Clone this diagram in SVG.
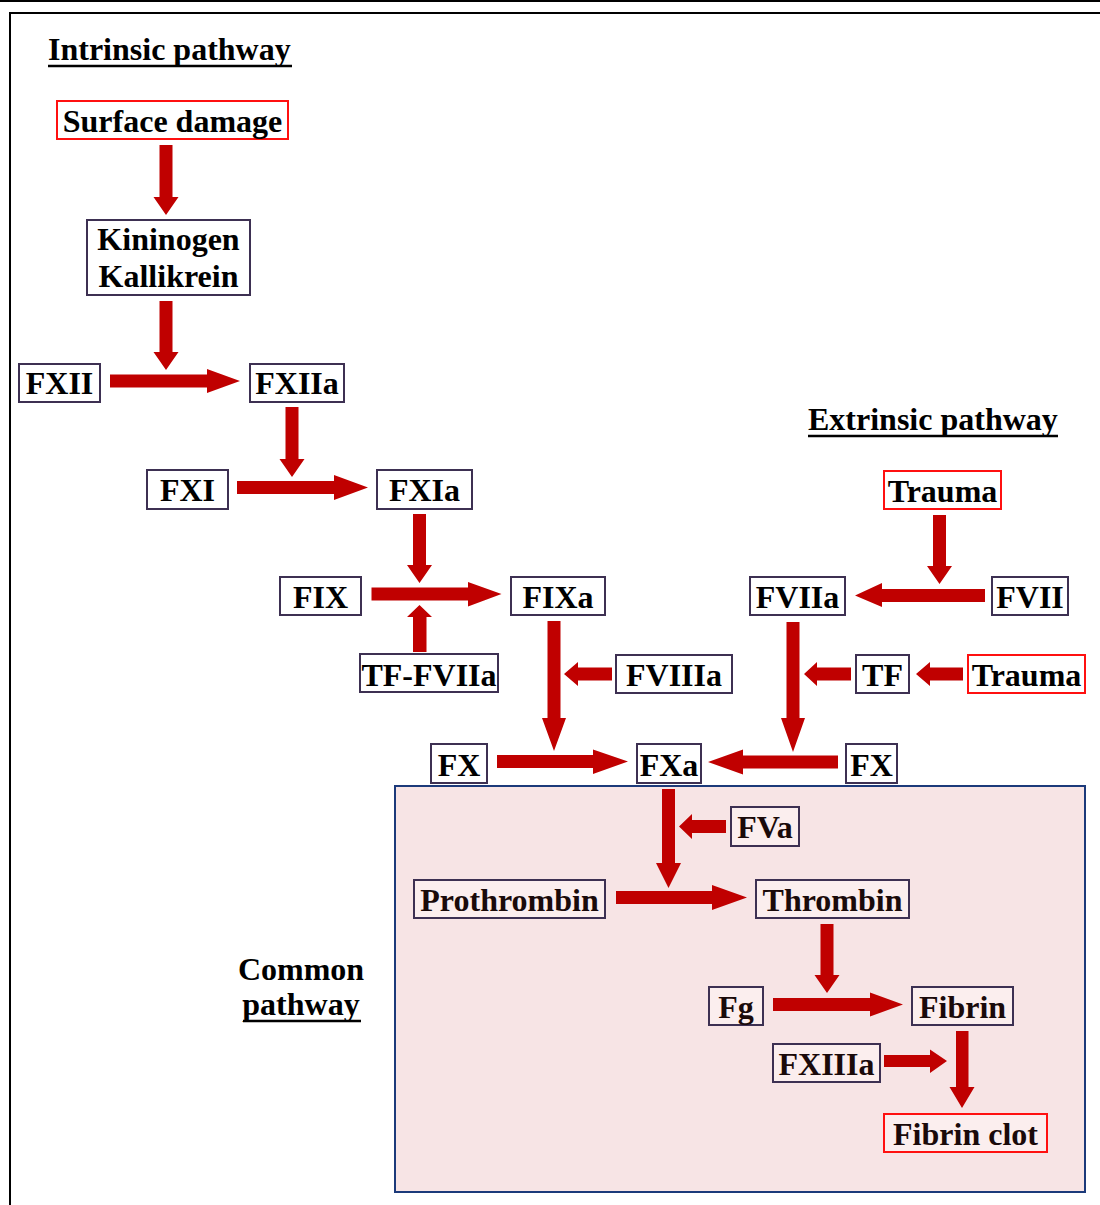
<svg xmlns="http://www.w3.org/2000/svg" width="1100" height="1205" viewBox="0 0 1100 1205">
<style>
text{font-family:"Liberation Serif","Times New Roman",serif;font-weight:bold;font-size:32px;fill:#000;text-anchor:middle}
.ul{stroke:#000;stroke-width:2.6}
.b{fill:#fff;stroke:#3d3052;stroke-width:2}
.r{fill:#fff;stroke:#ff1010;stroke-width:2}
.in{fill:#fbeeee}
.in + text, .in ~ text{fill:#1a0a0a}
.a{fill:#c00000}
.frame{fill:none;stroke:#000;stroke-width:2}
</style>
<rect width="1100" height="1205" fill="#fff"/>
<line x1="0" y1="1" x2="1100" y2="1" stroke="#000" stroke-width="2"/>
<polyline class="frame" points="10,1205 10,13 1100,13"/>
<g id="common-pathway">
<rect x="395" y="786" width="690" height="406" fill="#f7e4e5" stroke="#1c3a7a" stroke-width="2"/>
</g>
<g id="labels">
<text x="48" y="60" style="text-anchor:start">Intrinsic pathway</text>
<line class="ul" x1="48" y1="66" x2="292" y2="66"/>
<text x="808" y="430" style="text-anchor:start">Extrinsic pathway</text>
<line class="ul" x1="808" y1="436" x2="1058" y2="436"/>
<text x="301" y="980">Common</text>
<text x="301" y="1015">pathway</text>
<line class="ul" x1="243" y1="1021" x2="361" y2="1021"/>
</g>
<g id="connectors">
<polygon class="a" points="159.5,145 172.5,145 172.5,197 178.5,197 166,215 153.5,197 159.5,197"/>
<polygon class="a" points="159.5,301 172.5,301 172.5,352 178.5,352 166,370 153.5,352 159.5,352"/>
<polygon class="a" points="285.5,407 298.5,407 298.5,459 304.5,459 292,477 279.5,459 285.5,459"/>
<polygon class="a" points="413,514 426,514 426,565 432,565 419.5,583 407,565 413,565"/>
<polygon class="a" points="933,515 946,515 946,566 952,566 939.5,584 927,566 933,566"/>
<polygon class="a" points="547.5,621 560.5,621 560.5,718 566,718 554,751 542,718 547.5,718"/>
<polygon class="a" points="786.5,622 799.5,622 799.5,718 805,718 793,752 781,718 786.5,718"/>
<polygon class="a" points="662,789 675,789 675,863 681,863 668.5,888 656,863 662,863"/>
<polygon class="a" points="820.5,924 833.5,924 833.5,975 839.5,975 827,993 814.5,975 820.5,975"/>
<polygon class="a" points="956,1031 968.5,1031 968.5,1087 974.5,1087 962,1108 949.5,1087 956,1087"/>
<polygon class="a" points="413,652 426.5,652 426.5,617 432,617 419.5,605 407,617 413,617"/>
<polygon class="a" points="110,374.5 207,374.5 207,369 240,381 207,393 207,387.5 110,387.5"/>
<polygon class="a" points="237,481 334,481 334,475 368,487.5 334,500 334,494 237,494"/>
<polygon class="a" points="371.5,587.5 468,587.5 468,582 501.5,594 468,606.5 468,600.5 371.5,600.5"/>
<polygon class="a" points="497,755 593,755 593,749.5 628,761.5 593,774 593,768 497,768"/>
<polygon class="a" points="616,891 712,891 712,885 747,897.5 712,910 712,904 616,904"/>
<polygon class="a" points="773,998 870,998 870,992.5 903,1004.5 870,1016.5 870,1011 773,1011"/>
<polygon class="a" points="884,1055 930,1055 930,1049.5 947,1061 930,1073 930,1067 884,1067"/>
<polygon class="a" points="985,589 882,589 882,583 855,595.5 882,607 882,602 985,602"/>
<polygon class="a" points="838,755.5 743,755.5 743,749.5 708,762 743,774.5 743,768.5 838,768.5"/>
<polygon class="a" points="612,667.5 578,667.5 578,662 564,674 578,686 578,680.5 612,680.5"/>
<polygon class="a" points="851,667.5 817,667.5 817,662 804,674 817,686 817,680.5 851,680.5"/>
<polygon class="a" points="963,667.5 930,667.5 930,662 916,674 930,686 930,680.5 963,680.5"/>
<polygon class="a" points="726,820 692,820 692,814 679,826.5 692,839 692,833 726,833"/>
</g>
<g id="surface-damage"><rect class="r" x="57" y="101" width="231" height="38"/><text x="172.5" y="132">Surface damage</text></g>
<g id="kininogen-kallikrein"><rect class="b" x="87" y="220" width="163" height="75"/><text x="168.5" y="250">Kininogen</text><text x="168.5" y="287">Kallikrein</text></g>
<g id="fxii"><rect class="b" x="19" y="364" width="81" height="38"/><text x="59.5" y="394">FXII</text></g>
<g id="fxiia"><rect class="b" x="250" y="364" width="94" height="38"/><text x="297" y="394">FXIIa</text></g>
<g id="fxi"><rect class="b" x="147" y="470" width="81" height="39"/><text x="187.5" y="501">FXI</text></g>
<g id="fxia"><rect class="b" x="377" y="470" width="95" height="39"/><text x="424.5" y="501">FXIa</text></g>
<g id="fix"><rect class="b" x="280" y="577" width="81" height="38"/><text x="320.5" y="608">FIX</text></g>
<g id="fixa"><rect class="b" x="511" y="577" width="94" height="38"/><text x="558" y="608">FIXa</text></g>
<g id="tf-fviia"><rect class="b" x="360" y="654" width="138" height="38"/><text x="429" y="686">TF-FVIIa</text></g>
<g id="fviiia"><rect class="b" x="616" y="655" width="116" height="38"/><text x="674" y="686">FVIIIa</text></g>
<g id="fx-left"><rect class="b" x="431" y="744" width="56" height="39"/><text x="459" y="776">FX</text></g>
<g id="fxa"><rect class="b" x="637" y="744" width="64" height="39"/><text x="669" y="776">FXa</text></g>
<g id="fx-right"><rect class="b" x="846" y="744" width="51" height="39"/><text x="871.5" y="776">FX</text></g>
<g id="trauma-1"><rect class="r" x="884" y="471" width="117" height="38"/><text x="942.5" y="502">Trauma</text></g>
<g id="fviia"><rect class="b" x="750" y="577" width="95" height="38"/><text x="797.5" y="608">FVIIa</text></g>
<g id="fvii"><rect class="b" x="992" y="577" width="76" height="38"/><text x="1030" y="608">FVII</text></g>
<g id="tf"><rect class="b" x="856" y="655" width="53" height="38"/><text x="882.5" y="686">TF</text></g>
<g id="trauma-2"><rect class="r" x="968" y="655" width="117" height="38"/><text x="1026.5" y="686">Trauma</text></g>
<g id="fva"><rect class="b in" x="731" y="807" width="68" height="39"/><text x="765" y="838">FVa</text></g>
<g id="prothrombin"><rect class="b in" x="414" y="880" width="191" height="38"/><text x="509.5" y="911">Prothrombin</text></g>
<g id="thrombin"><rect class="b in" x="756" y="880" width="153" height="38"/><text x="832.5" y="911">Thrombin</text></g>
<g id="fg"><rect class="b in" x="709" y="987" width="54" height="38"/><text x="736" y="1018">Fg</text></g>
<g id="fibrin"><rect class="b in" x="912" y="987" width="101" height="38"/><text x="962.5" y="1018">Fibrin</text></g>
<g id="fxiiia"><rect class="b in" x="773" y="1044" width="107" height="38"/><text x="826.5" y="1075">FXIIIa</text></g>
<g id="fibrin-clot"><rect class="r in" x="884" y="1114" width="163" height="38"/><text x="965.5" y="1145">Fibrin clot</text></g>
</svg>
